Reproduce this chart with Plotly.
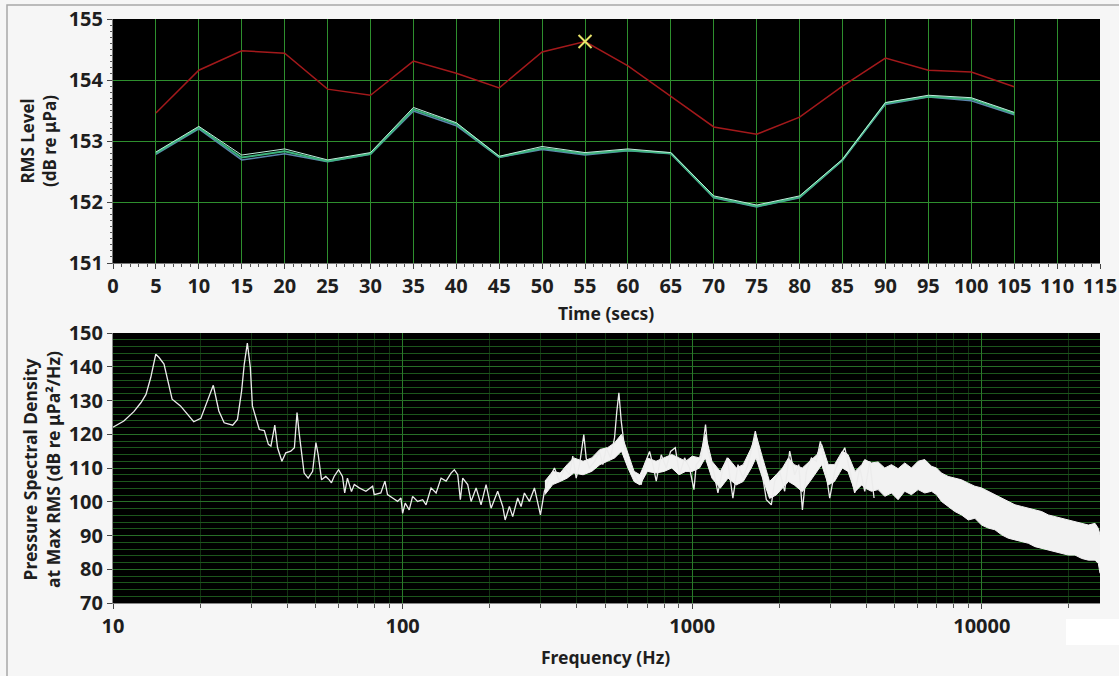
import plotly.graph_objects as go

# ---------------- data: RMS level vs time ----------------
time_s = [5, 10, 15, 20, 25, 30, 35, 40, 45, 50, 55, 60, 65, 70, 75, 80, 85, 90, 95, 100, 105]
rms_red = [153.46, 154.16, 154.48, 154.44, 153.85, 153.75, 154.31, 154.11, 153.87, 154.46, 154.63,
           154.23, 153.73, 153.23, 153.11, 153.39, 153.90, 154.36, 154.16, 154.13, 153.89]
rms_light = [152.82, 153.24, 152.77, 152.87, 152.69, 152.81, 153.55, 153.30, 152.75, 152.91, 152.81,
             152.87, 152.81, 152.10, 151.95, 152.10, 152.70, 153.63, 153.75, 153.71, 153.47]
rms_green = [152.80, 153.22, 152.73, 152.83, 152.67, 152.79, 153.52, 153.28, 152.74, 152.88, 152.79,
             152.85, 152.80, 152.08, 151.93, 152.08, 152.69, 153.62, 153.73, 153.69, 153.45]
rms_blue = [152.78, 153.20, 152.69, 152.79, 152.66, 152.78, 153.49, 153.25, 152.73, 152.86, 152.77,
            152.84, 152.79, 152.07, 151.92, 152.07, 152.68, 153.60, 153.72, 153.66, 153.43]
max_time = [55]
max_rms = [154.63]

# ---------------- data: PSD at max RMS ----------------
psd_freq = [10.0, 10.9, 11.8, 12.5, 13.0, 13.5, 14.05, 14.4, 15.0, 15.4, 16.0, 17.1, 19.0, 20.1, 21.2,
            22.2, 23.2, 24.2, 25.9, 26.9, 27.8, 28.4, 29.1, 29.8, 30.3, 32.0, 33.3, 34.4, 35.1, 36.2,
            37.0, 38.3, 39.5, 41.1, 42.3, 43.2, 44.0, 45.7, 47.2, 48.9, 50.2, 51.1, 52.5, 54.3, 55.8,
            56.8, 58.0, 60.1, 62.0, 63.1, 64.5, 66.6, 68.1, 70.8, 74.7, 78.8, 79.8, 84.1, 86.9, 88.7,
            92.4, 96.1, 98.7, 100.0, 102.1, 105.4, 108.3, 112.7, 117.3, 120.5, 125.4, 130.5, 135.8,
            141.3, 147.0, 150.9, 155.0, 158.3, 161.3, 167.8, 172.4, 179.4, 186.6, 194.2, 202.1, 213.0,
            221.7, 226.0, 233.8, 240.0, 249.7, 256.5, 263.4, 274.1, 285.3, 292.9, 299.2, 308.8, 321.4,
            334.5, 348.1, 362.3, 377.0, 387.0, 397.6, 408.3, 422.4, 430.5, 441.6, 459.8, 478.6, 491.3,
            505.0, 522.4, 539.3, 549.4, 558.3, 568.8, 583.8, 599.4, 623.7, 649.2, 666.9, 684.6, 712.6,
            731.3, 751.4, 781.8, 813.7, 841.9, 874.2, 904.4, 941.2, 979.5, 1014, 1033, 1075, 1112,
            1133, 1180, 1227, 1277, 1322, 1382, 1439, 1497, 1558, 1608, 1652, 1696, 1742, 1803, 1876,
            1927, 2005, 2086, 2171, 2259, 2333, 2402, 2480, 2580, 2685, 2771, 2869, 2985, 3106, 3232,
            3364, 3472, 3642, 3790, 3944, 4104, 4246]
psd_db = [122.1, 123.9, 126.7, 129.4, 131.8, 136.8, 143.7, 142.8, 140.8, 136.8, 130.4, 128.4, 123.7, 124.7,
          129.9, 134.5, 126.9, 123.4, 122.7, 124.4, 132.8, 140.8, 147.0, 139.8, 128.4, 121.4, 121.1,
          117.0, 116.5, 122.7, 116.0, 112.0, 114.5, 115.0, 116.0, 126.4, 119.9, 108.5, 107.0, 109.0,
          117.5, 114.0, 106.5, 107.5, 106.5, 105.6, 107.5, 109.5, 107.5, 102.6, 107.0, 103.0, 105.1,
          104.1, 103.1, 104.6, 102.1, 102.6, 106.1, 102.1, 101.1, 100.1, 101.1, 96.6, 99.6, 97.6,
          101.6, 100.1, 100.6, 99.1, 104.1, 102.6, 107.0, 106.1, 108.5, 109.5, 108.0, 100.6, 107.0,
          105.1, 100.1, 104.1, 99.1, 105.1, 98.1, 103.1, 98.6, 94.6, 98.6, 95.6, 101.1, 98.6, 102.6,
          100.1, 104.1, 100.1, 96.1, 103.1, 107.0, 110.0, 106.1, 110.0, 108.0, 113.5, 107.0, 111.0,
          119.9, 112.9, 110.0, 111.9, 114.9, 111.0, 116.0, 113.0, 118.9, 126.9, 132.3, 123.9, 116.0,
          111.0, 109.0, 106.1, 105.1, 111.0, 114.9, 111.0, 106.1, 113.9, 110.0, 114.9, 116.0, 108.0,
          113.0, 110.0, 103.6, 111.0, 113.0, 122.9, 115.0, 110.0, 102.6, 110.0, 113.0, 101.1, 111.0,
          107.0, 111.0, 116.0, 120.9, 115.0, 109.0, 100.6, 99.1, 106.1, 109.0, 103.1, 115.0, 108.0,
          111.0, 97.6, 109.0, 113.0, 112.0, 117.9, 111.0, 101.1, 109.0, 113.0, 116.0, 111.0, 102.6,
          110.0, 103.1, 112.0, 101.1]

# dense-noise band (upper / lower edge of the white trace)
band_freq = [310, 330, 350, 370, 390, 420, 450, 480, 510, 540, 570, 600, 630, 660, 700, 750, 800, 850,
             900, 950, 1000, 1060, 1110, 1170, 1250, 1330, 1420, 1500, 1600, 1660, 1750, 1850, 1950,
             2050, 2150, 2250, 2400, 2550, 2700, 2800, 2950, 3100, 3300, 3450, 3650, 3850, 3943,
             4159, 4385, 4624, 4875, 5140, 5420, 5715, 6026, 6356, 6705, 6976, 7258, 7655, 8072, 8511,
             8981, 9465, 9982, 10525, 11100, 11706, 12345, 13020, 13728, 14476, 15262, 16094, 16970,
             17893, 18867, 19897, 20979, 22130, 23334, 24600, 25260, 25600]
band_upper = [106.1, 109.0, 108.5, 111.0, 113.0, 112.0, 113.0, 115.5, 116.0, 117.5, 120.0, 114.0, 109.0,
              108.0, 113.0, 112.0, 113.0, 114.0, 113.0, 112.0, 113.5, 113.0, 120.0, 112.0, 109.0, 113.0,
              110.0, 111.0, 116.0, 120.0, 113.0, 106.0, 108.0, 110.0, 113.0, 111.0, 110.0, 112.0, 114.0,
              117.0, 111.0, 111.0, 115.0, 114.0, 109.0, 111.0, 112.5,
              111.5, 111.8, 110.0, 111.0, 109.8, 111.5, 110.0, 112.0, 112.5, 110.5, 110.0, 108.5, 107.5,
              107.0, 106.5, 105.5, 104.6, 104.1, 103.1, 102.1, 101.1, 100.1, 99.1, 98.6, 98.1, 97.6,
              97.1, 96.1, 95.6, 95.1, 94.6, 94.1, 93.6, 93.1, 93.6, 92.1, 90.2]
band_lower = [102.1, 105.1, 106.0, 107.0, 108.5, 108.0, 109.0, 111.0, 112.0, 113.0, 115.0, 110.0, 106.0,
              105.0, 109.0, 108.5, 109.0, 110.0, 108.0, 109.0, 109.0, 110.0, 113.0, 107.0, 104.0, 107.0,
              105.0, 106.0, 110.0, 113.0, 107.0, 101.0, 102.0, 104.0, 106.0, 105.0, 103.0, 106.0, 109.0,
              111.0, 105.0, 106.0, 110.0, 109.0, 103.0, 105.0, 104.1,
              103.1, 103.6, 101.6, 102.6, 100.6, 103.1, 102.1, 103.6, 102.6, 103.1, 102.1, 100.1, 98.6,
              97.1, 96.1, 94.6, 95.1, 93.1, 92.2, 91.7, 90.2, 89.2, 88.7, 88.2, 87.7, 86.7, 86.2, 85.7,
              85.2, 84.7, 84.2, 84.2, 83.2, 82.7, 82.7, 81.7, 78.8]

top_xticks = list(range(0, 120, 5))
freq_major = [10, 100, 1000, 10000]
freq_major_text = ["10", "100", "1000", "10000"]
freq_minor = [20, 30, 40, 50, 60, 70, 80, 90, 200, 300, 400, 500, 600, 700, 800, 900,
              2000, 3000, 4000, 5000, 6000, 7000, 8000, 9000, 20000]

W, H = 1119, 676
FONT = "Noto Sans"
TXT = "#1e1e1e"

fig = go.Figure()

# top chart
fig.add_trace(go.Scatter(x=time_s, y=rms_red, mode="lines", line=dict(color="#a3191b", width=1.5),
                         xaxis="x", yaxis="y", showlegend=False))
fig.add_trace(go.Scatter(x=time_s, y=rms_blue, mode="lines", line=dict(color="#5b86ad", width=1.5),
                         xaxis="x", yaxis="y", showlegend=False))
fig.add_trace(go.Scatter(x=time_s, y=rms_green, mode="lines", line=dict(color="#3cb47c", width=2),
                         xaxis="x", yaxis="y", showlegend=False))
fig.add_trace(go.Scatter(x=time_s, y=rms_light, mode="lines", line=dict(color="#bfeedd", width=1),
                         xaxis="x", yaxis="y", showlegend=False))
fig.add_trace(go.Scatter(x=max_time, y=max_rms, mode="markers",
                         marker=dict(symbol="x-thin-open", size=13, color="#e8e26a",
                                     line=dict(color="#e8e26a", width=2)),
                         xaxis="x", yaxis="y", showlegend=False))

# bottom chart
fig.add_trace(go.Scatter(x=band_freq, y=band_upper, mode="lines", line=dict(color="#f2f2f2", width=1),
                         xaxis="x2", yaxis="y2", showlegend=False))
fig.add_trace(go.Scatter(x=band_freq, y=band_lower, mode="lines", line=dict(color="#f2f2f2", width=1),
                         fill="tonexty", fillcolor="#f2f2f2",
                         xaxis="x2", yaxis="y2", showlegend=False))
fig.add_trace(go.Scatter(x=psd_freq, y=psd_db, mode="lines", line=dict(color="#ececec", width=1.3),
                         xaxis="x2", yaxis="y2", showlegend=False))

xdom = [113 / W, 1100 / W]
tickfont = dict(family=FONT, size=20, color=TXT, weight="bold")

fig.update_layout(
    width=W, height=H,
    margin=dict(l=0, r=0, t=0, b=0),
    paper_bgcolor="#f6f6f6", plot_bgcolor="#000000",
    font=dict(family=FONT, color=TXT),
    xaxis=dict(domain=xdom, anchor="y", range=[0, 115], tickmode="array", tickvals=top_xticks,
               automargin=False,
               showgrid=True, gridcolor="#2e8f2e", gridwidth=1, zeroline=False,
               showline=True, linecolor="#777777", ticks="outside", ticklen=5, tickcolor="#444444",
               tickfont=tickfont,
               minor=dict(dtick=1, ticks="outside", ticklen=3, tickcolor="#555555", showgrid=False)),
    yaxis=dict(domain=[1 - 263 / H, 1 - 19 / H], anchor="x", range=[151, 155], dtick=1,
               automargin=False,
               showgrid=True, gridcolor="#2e8f2e", gridwidth=1, zeroline=False,
               showline=True, linecolor="#777777", ticks="outside", ticklen=5, tickcolor="#444444",
               tickfont=tickfont,
               minor=dict(dtick=0.1, ticks="outside", ticklen=2, tickcolor="#555555", showgrid=False)),
    xaxis2=dict(domain=xdom, anchor="y2", type="log", range=[1, 4.4082], automargin=False,
                tickmode="array", tickvals=freq_major, ticktext=freq_major_text,
                showgrid=True, gridcolor="#2a7a2a", gridwidth=1, zeroline=False,
                showline=True, linecolor="#888888", ticks="outside", ticklen=5, tickcolor="#444444",
                tickfont=tickfont,
                minor=dict(tickmode="array", tickvals=freq_minor, ticks="outside", ticklen=4,
                           tickcolor="#555555", showgrid=True, gridcolor="rgba(40,110,40,0.45)",
                           gridwidth=1)),
    yaxis2=dict(domain=[1 - 603 / H, 1 - 333 / H], anchor="x2", range=[70, 150], dtick=10,
                automargin=False,
                showgrid=True, gridcolor="#276e27", gridwidth=1, zeroline=False,
                showline=True, linecolor="#888888", ticks="outside", ticklen=5, tickcolor="#444444",
                tickfont=tickfont,
                minor=dict(dtick=2, ticks="", showgrid=True, gridcolor="#1c561c", gridwidth=1)),
    annotations=[
        dict(text="RMS Level<br>(dB re μPa)", x=38 / W, y=1 - 141 / H, xref="paper", yref="paper",
             textangle=-90, showarrow=False, xanchor="center", yanchor="middle",
             font=dict(family=FONT, size=17, color=TXT, weight="bold")),
        dict(text="Time (secs)", x=606 / W, y=1 - 313 / H, xref="paper", yref="paper",
             showarrow=False, xanchor="center", yanchor="middle",
             font=dict(family=FONT, size=17.5, color=TXT, weight="bold")),
        dict(text="Pressure Spectral Density<br>at Max RMS (dB re μPa²/Hz)", x=41 / W, y=1 - 470 / H,
             xref="paper", yref="paper", textangle=-90, showarrow=False,
             xanchor="center", yanchor="middle",
             font=dict(family=FONT, size=17.5, color=TXT, weight="bold")),
        dict(text="Frequency (Hz)", x=605 / W, y=1 - 657 / H, xref="paper", yref="paper",
             showarrow=False, xanchor="center", yanchor="middle",
             font=dict(family=FONT, size=17.5, color=TXT, weight="bold")),
    ],
    shapes=[
        dict(type="path", xref="paper", yref="paper",
             path=f"M {7 / W},0 L {7 / W},{1 - 5 / H} L 1,{1 - 5 / H}",
             line=dict(color="#a8a8a8", width=1.5)),
        dict(type="rect", xref="paper", yref="paper", x0=1066 / W, x1=1, y0=1 - 645 / H, y1=1 - 619 / H,
             fillcolor="#ffffff", line=dict(width=0), layer="above"),
    ],
)

fig.write_html("out.html")
